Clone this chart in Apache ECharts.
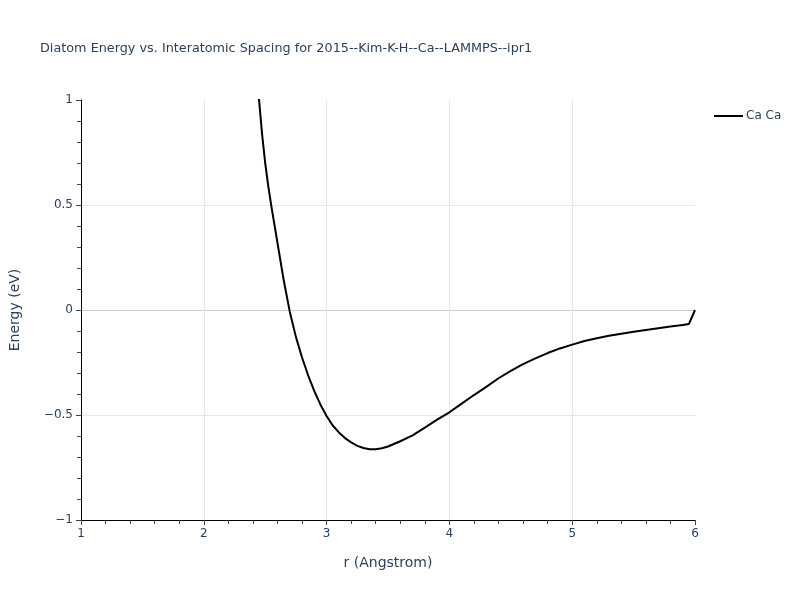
<!DOCTYPE html>
<html>
<head>
<meta charset="utf-8">
<script src="https://cdn.jsdelivr.net/npm/echarts@6/dist/echarts.min.js"></script>
<style>html,body{margin:0;padding:0;background:#fff}#c{width:800px;height:600px}</style>
</head>
<body>
<div id="c"></div>
<script>
const titleText = "Diatom Energy vs. Interatomic Spacing for 2015--Kim-K-H--Ca--LAMMPS--ipr1";
const seriesName = "Ca Ca";
const rValues = [2.40, 2.45, 2.475, 2.50, 2.525, 2.55, 2.60, 2.65, 2.70, 2.75, 2.80, 2.85, 2.90, 2.95, 3.00, 3.05, 3.10, 3.15, 3.20, 3.25, 3.30, 3.35, 3.40, 3.45, 3.50, 3.60, 3.70, 3.80, 3.90, 4.00, 4.10, 4.20, 4.30, 4.40, 4.50, 4.60, 4.70, 4.80, 4.90, 5.00, 5.10, 5.20, 5.30, 5.40, 5.50, 5.60, 5.70, 5.80, 5.90, 5.95, 6.00];
const energyValues = [1.40, 1.00, 0.835, 0.70, 0.59, 0.495, 0.32, 0.144, -0.008, -0.128, -0.226, -0.312, -0.386, -0.451, -0.505, -0.550, -0.583, -0.610, -0.630, -0.647, -0.657, -0.663, -0.663, -0.658, -0.650, -0.625, -0.597, -0.560, -0.522, -0.487, -0.446, -0.405, -0.366, -0.325, -0.290, -0.258, -0.230, -0.205, -0.183, -0.165, -0.148, -0.135, -0.123, -0.113, -0.104, -0.095, -0.087, -0.079, -0.071, -0.067, 0.0];
const xTicks = [1, 2, 3, 4, 5, 6];
const yTicks = [-1, -0.5, 0, 0.5, 1];

const FONT = 'DejaVu Sans, Verdana, sans-serif';
const fmt = v => String(v).replace('-', '\u2212');
const chart = echarts.init(document.getElementById('c'));
chart.setOption({
  animation: false,
  backgroundColor: '#fff',
  title: {
    text: titleText, left: 35, top: 37,
    textStyle: {fontFamily: FONT, fontSize: 12.8, fontWeight: 'normal', color: '#2a3f5f'}
  },
  legend: {
    data: [seriesName], left: 709, top: 105, icon: 'rect', itemWidth: 29, itemHeight: 2, itemGap: 5,
    textStyle: {fontFamily: FONT, fontSize: 12, color: '#2a3f5f', padding: [0, 0, 0, -2]}
  },
  grid: {left: 80, right: 105, top: 100, bottom: 80, containLabel: false},
  xAxis: {
    type: 'value', min: xTicks[0], max: xTicks[xTicks.length - 1], interval: 1,
    name: 'r (Angstrom)', nameLocation: 'middle', nameGap: 36,
    nameTextStyle: {fontFamily: FONT, fontSize: 14, color: '#2a3f5f'},
    axisLine: {show: true, onZero: false, lineStyle: {color: '#000', width: 1}},
    axisTick: {show: true, length: 5, lineStyle: {color: '#444'}},
    minorTick: {show: true, splitNumber: 5, length: 4, lineStyle: {color: '#444'}},
    axisLabel: {formatter: fmt, margin: 8, fontFamily: FONT, fontSize: 12, color: '#2a3f5f'},
    splitLine: {show: true, lineStyle: {color: ['#eee', '#e6e6e6', '#e6e6e6', '#e6e6e6', '#e6e6e6', 'rgba(0,0,0,0)'], width: 1}}
  },
  yAxis: {
    type: 'value', min: yTicks[0], max: yTicks[yTicks.length - 1], interval: 0.5,
    name: 'Energy (eV)', nameLocation: 'middle', nameGap: 59,
    nameTextStyle: {fontFamily: FONT, fontSize: 14, color: '#2a3f5f'},
    axisLine: {show: true, onZero: false, lineStyle: {color: '#000', width: 1}},
    axisTick: {show: true, length: 5, lineStyle: {color: '#444'}},
    minorTick: {show: true, splitNumber: 5, length: 4, lineStyle: {color: '#444'}},
    axisLabel: {formatter: fmt, margin: 8, fontFamily: FONT, fontSize: 12, color: '#2a3f5f'},
    splitLine: {show: true, lineStyle: {color: ['rgba(0,0,0,0)', '#e6e6e6', '#cccccc', '#e6e6e6', 'rgba(0,0,0,0)'], width: 1}}
  },
  series: [{
    name: seriesName, type: 'line', showSymbol: false, symbol: 'none', clip: true,
    data: rValues.map((r, i) => [r, energyValues[i]]),
    lineStyle: {color: '#000', width: 2}, itemStyle: {color: '#000'}
  }]
});
</script>
</body>
</html>
